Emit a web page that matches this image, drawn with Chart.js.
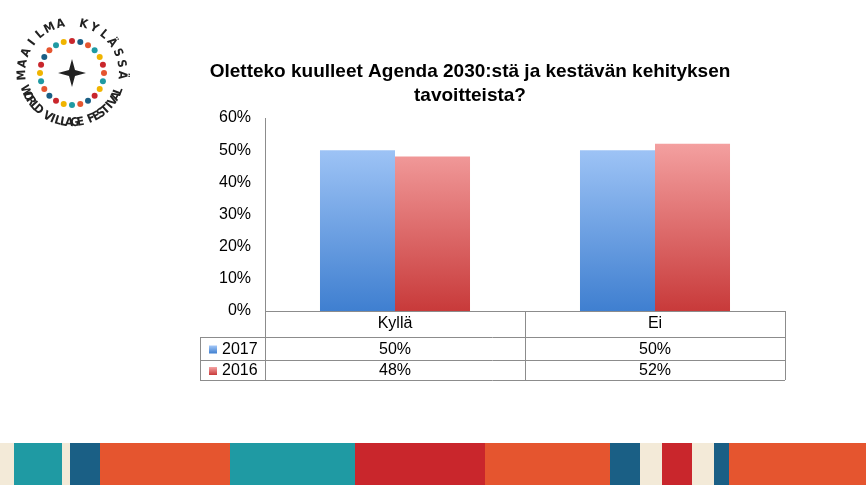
<!DOCTYPE html>
<html><head><meta charset="utf-8">
<script src="https://cdn.jsdelivr.net/npm/chart.js@4/dist/chart.umd.min.js"></script>
<style>
body{margin:0;width:866px;height:485px;overflow:hidden;background:#fff;font-family:"Liberation Sans",Arial,sans-serif;position:relative}
#c{position:absolute;left:0;top:0}
#banner{position:absolute;left:0;top:443px;width:866px;height:42px;display:flex}
#banner div{height:42px}
#logo{position:absolute;left:5px;top:15px}
</style></head><body>
<canvas id="logo" width="135" height="120"></canvas>
<div id="banner"></div>
<canvas id="c" width="866" height="485"></canvas>
<script>
const categories=["Kyllä","Ei"];
const seriesNames=["2017","2016"];
const values2017=[50,50];
const values2016=[48,52];
const yTicks=[0,10,20,30,40,50,60];
const titleLines=["Oletteko kuulleet Agenda 2030:stä ja kestävän kehityksen","tavoitteista?"];

const bcols=[["#f3ead8",14],["#1f9aa3",48],["#f3ead8",8],["#1a5f85",30],["#e5552f",130],["#1f9aa3",125],["#c9262c",130],["#e5552f",125],["#1a5f85",30],["#f3ead8",22],["#c9262c",30],["#f3ead8",22],["#1a5f85",15],["#e5552f",137]];
const bn=document.getElementById('banner');bcols.forEach(([c,w])=>{const d=document.createElement('div');d.style.background=c;d.style.width=w+'px';bn.appendChild(d);});
(function(){const g=document.getElementById('logo').getContext('2d');const cx=67,cy=58;
g.font="bold 12px 'DejaVu Sans Condensed',sans-serif";g.fillStyle="#222";g.textAlign="center";g.textBaseline="middle";
function arc(t,r,a0,a1,inv){const n=t.length;for(let i=0;i<n;i++){const a=a0+(a1-a0)*(i+0.5)/n;g.save();g.translate(cx+r*Math.cos(a),cy+r*Math.sin(a));g.rotate(a+(inv?-Math.PI/2:Math.PI/2));g.fillText(t[i],0,0);g.restore();}}
arc("MAAILMA KYLÄSSÄ",50,Math.PI*0.95,Math.PI*2.05,false);
arc("WORLD VILLAGE FESTIVAL",50,Math.PI*0.9,Math.PI*0.1,true);
const cs=["#e5552f","#1f9aa3","#f0b400","#c9262c","#1a5f85"];
for(let i=0;i<24;i++){const a=i/24*2*Math.PI;g.fillStyle=cs[i%5];g.beginPath();g.arc(cx+32*Math.cos(a),cy+32*Math.sin(a),3,0,7);g.fill();}
g.fillStyle="#222";g.beginPath();g.moveTo(cx,cy-14);g.lineTo(cx+3,cy-3);g.lineTo(cx+14,cy);g.lineTo(cx+3,cy+3);g.lineTo(cx,cy+14);g.lineTo(cx-3,cy+3);g.lineTo(cx-14,cy);g.lineTo(cx-3,cy-3);g.closePath();g.fill();})();

function grad(ctx,area,top,bot){if(!area)return top;const gr=ctx.createLinearGradient(0,area.bottom,0,area.top+20);gr.addColorStop(0,bot);gr.addColorStop(1,top);return gr;}
const tablePlugin={id:'tbl',afterDraw(ch){const c=ch.ctx,a=ch.chartArea,x=ch.scales.x;
c.save();
c.fillStyle="#000";c.font="bold 19px 'Liberation Sans',Arial";c.textAlign="center";c.textBaseline="middle";
c.fillText(titleLines[0],470,72);c.fillText(titleLines[1],470,96);
c.strokeStyle="#8c8c8c";c.lineWidth=1;
const L=200,rows=[a.bottom,337,360,380];
c.beginPath();
c.moveTo(a.left,rows[0]+.5);c.lineTo(a.right,rows[0]+.5);
for(let i=1;i<4;i++){c.moveTo(L,rows[i]+.5);c.lineTo(a.right,rows[i]+.5);}
c.moveTo(L+.5,rows[1]);c.lineTo(L+.5,rows[3]);
const cw=(a.right-a.left)/categories.length;
for(let i=0;i<=categories.length;i++){const xx=Math.round(a.left+i*cw)+.5;c.moveTo(xx,rows[0]);c.lineTo(xx,rows[3]);}
c.stroke();
c.font="16px 'Liberation Sans',Arial";c.fillStyle="#000";
categories.forEach((k,i)=>c.fillText(k,x.getPixelForValue(i),324));
const sw=[["#a4c8f8","#3f7fd0"],["#f5a3a3","#c83a3a"]];
[values2017,values2016].forEach((vals,r)=>{const y=(rows[r+1]+rows[r+2])/2+1;
const gg=c.createLinearGradient(0,y-4,0,y+4);gg.addColorStop(0,sw[r][0]);gg.addColorStop(1,sw[r][1]);c.fillStyle=gg;c.fillRect(209,y-4,8,8);
c.fillStyle="#000";c.textAlign="left";c.fillText(seriesNames[r],222,y);c.textAlign="center";
vals.forEach((v,i)=>c.fillText(v+"%",x.getPixelForValue(i),y));});
c.restore();}};
new Chart(document.getElementById('c'),{type:'bar',
data:{labels:categories,datasets:[
{label:seriesNames[0],data:values2017,backgroundColor:ctx=>grad(ctx.chart.ctx,ctx.chart.chartArea,"#a4c8f8","#3f7fd0")},
{label:seriesNames[1],data:values2016,backgroundColor:ctx=>grad(ctx.chart.ctx,ctx.chart.chartArea,"#f5a3a3","#c83a3a")}]},
options:{responsive:false,animation:false,devicePixelRatio:1,
layout:{padding:{left:200,top:118,right:81,bottom:174}},
categoryPercentage:0.577,barPercentage:1,
plugins:{legend:{display:false},tooltip:{enabled:false}},
scales:{x:{display:false},
y:{min:0,max:60,afterFit:s=>{s.width=65;},afterBuildTicks:s=>{s.ticks=yTicks.map(v=>({value:v}));},
ticks:{color:"#000",font:{size:16,family:"'Liberation Sans',Arial"},callback:v=>v+"%",padding:6},
grid:{display:false,drawTicks:true},border:{display:true,color:"#8c8c8c"}}}},
plugins:[tablePlugin]});
</script></body></html>
